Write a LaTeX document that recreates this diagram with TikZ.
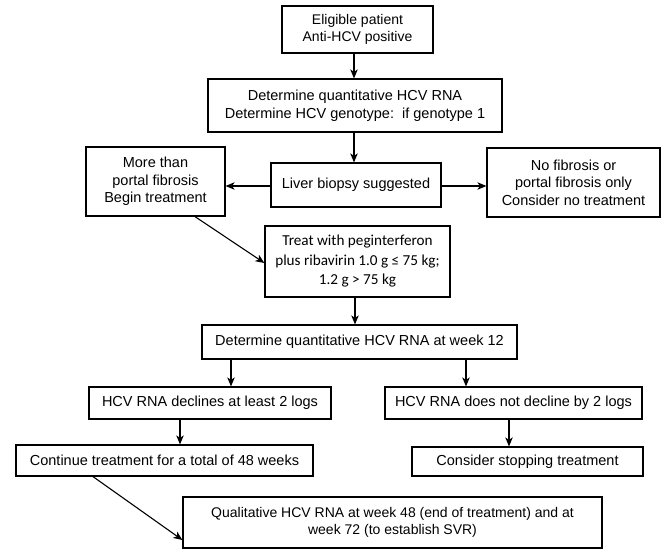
\documentclass[tikz,border=0pt]{standalone}
\usepackage{fontspec}
\setmainfont{Liberation Sans}
\newfontfamily\treatfont{Carlito}
\usetikzlibrary{arrows.meta}
\begin{document}
\begin{tikzpicture}[x=1pt,y=-1pt,
  box/.style={draw, line width=1.2pt, inner sep=0pt, align=center,
    font=\fontsize{14.5}{17.5}\selectfont},
  smalltext/.style={font=\fontsize{14}{17.5}\selectfont},
  arr/.style={line width=1.1pt, -{Stealth[length=9pt,width=7.5pt,inset=2.5pt]}}]
\useasboundingbox (0,0) rectangle (664,550);
\node[box, smalltext, minimum width=151pt, minimum height=47pt] (elig) at (357.5,29.5) {Eligible patient\\Anti-HCV positive};
\node[box, minimum width=294pt, minimum height=53pt] (rna) at (355,105.5) {Determine quantitative HCV RNA\\Determine HCV genotype:\ \ if genotype 1};
\node[box, minimum width=170pt, minimum height=44pt] (liver) at (356,185) {Liver biopsy suggested};
\node[box, minimum width=139pt, minimum height=69pt] (more) at (155.5,181.5) {More than\\portal fibrosis\\Begin treatment};
\node[box, minimum width=173pt, minimum height=69pt] (nofib) at (573.5,182.5) {No fibrosis or\\portal fibrosis only\\Consider no treatment};
\node[box, minimum width=185pt, minimum height=71pt, font=\treatfont\fontsize{15.2}{19.5}\selectfont] (treat) at (357.5,261.5) {Treat with peginterferon\\plus ribavirin 1.0 g ≤ 75 kg;\\1.2 g > 75 kg};
\node[box, minimum width=315pt, minimum height=34pt] (wk12) at (359.5,342) {Determine quantitative HCV RNA at week 12};
\node[box, minimum width=242pt, minimum height=32pt] (decl) at (210,403) {HCV RNA declines at least 2 logs};
\node[box, minimum width=257pt, minimum height=32pt] (nodecl) at (513.5,403) {HCV RNA does not decline by 2 logs};
\node[box, minimum width=297pt, minimum height=31pt] (cont) at (164.5,460.5) {Continue treatment for a total of 48 weeks};
\node[box, minimum width=231pt, minimum height=29pt] (stop) at (527.5,461.5) {Consider stopping treatment};
\node[box, smalltext, minimum width=419pt, minimum height=51pt] (qual) at (392.5,522.5) {Qualitative HCV RNA at week 48 (end of treatment) and at\\week 72 (to establish SVR)};

\draw[arr] ([xshift=-3.5pt]elig.south) -- ([xshift=-3.5pt]elig.south |- rna.north);
\draw[arr] ([xshift=-1pt]rna.south) -- ([xshift=-1pt]rna.south |- liver.north);
\draw[arr] ([yshift=-1pt]liver.west) -- ([yshift=-1pt]liver.west -| more.east);
\draw[arr] ([yshift=-1pt]liver.east) -- ([yshift=-1pt]liver.east -| nofib.west);
\draw[arr] ([xshift=39.5pt]more.south) -- ([yshift=-1.5pt]treat.west);
\draw[arr] ([xshift=-2.5pt]treat.south) -- ([xshift=-2.5pt]treat.south |- wk12.north);
\draw[arr] ([xshift=-128.5pt]wk12.south) -- ([xshift=-128.5pt]wk12.south |- decl.north);
\draw[arr] ([xshift=106.5pt]wk12.south) -- ([xshift=106.5pt]wk12.south |- nodecl.north);
\draw[arr] ([xshift=-30pt]decl.south) -- ([xshift=-30pt]decl.south |- cont.north);
\draw[arr] ([xshift=-4.5pt]nodecl.south) -- ([xshift=-4.5pt]nodecl.south |- stop.north);
\draw[arr] ([xshift=-71.5pt]cont.south) -- ([yshift=-17.5pt]qual.west);
\end{tikzpicture}
\end{document}
